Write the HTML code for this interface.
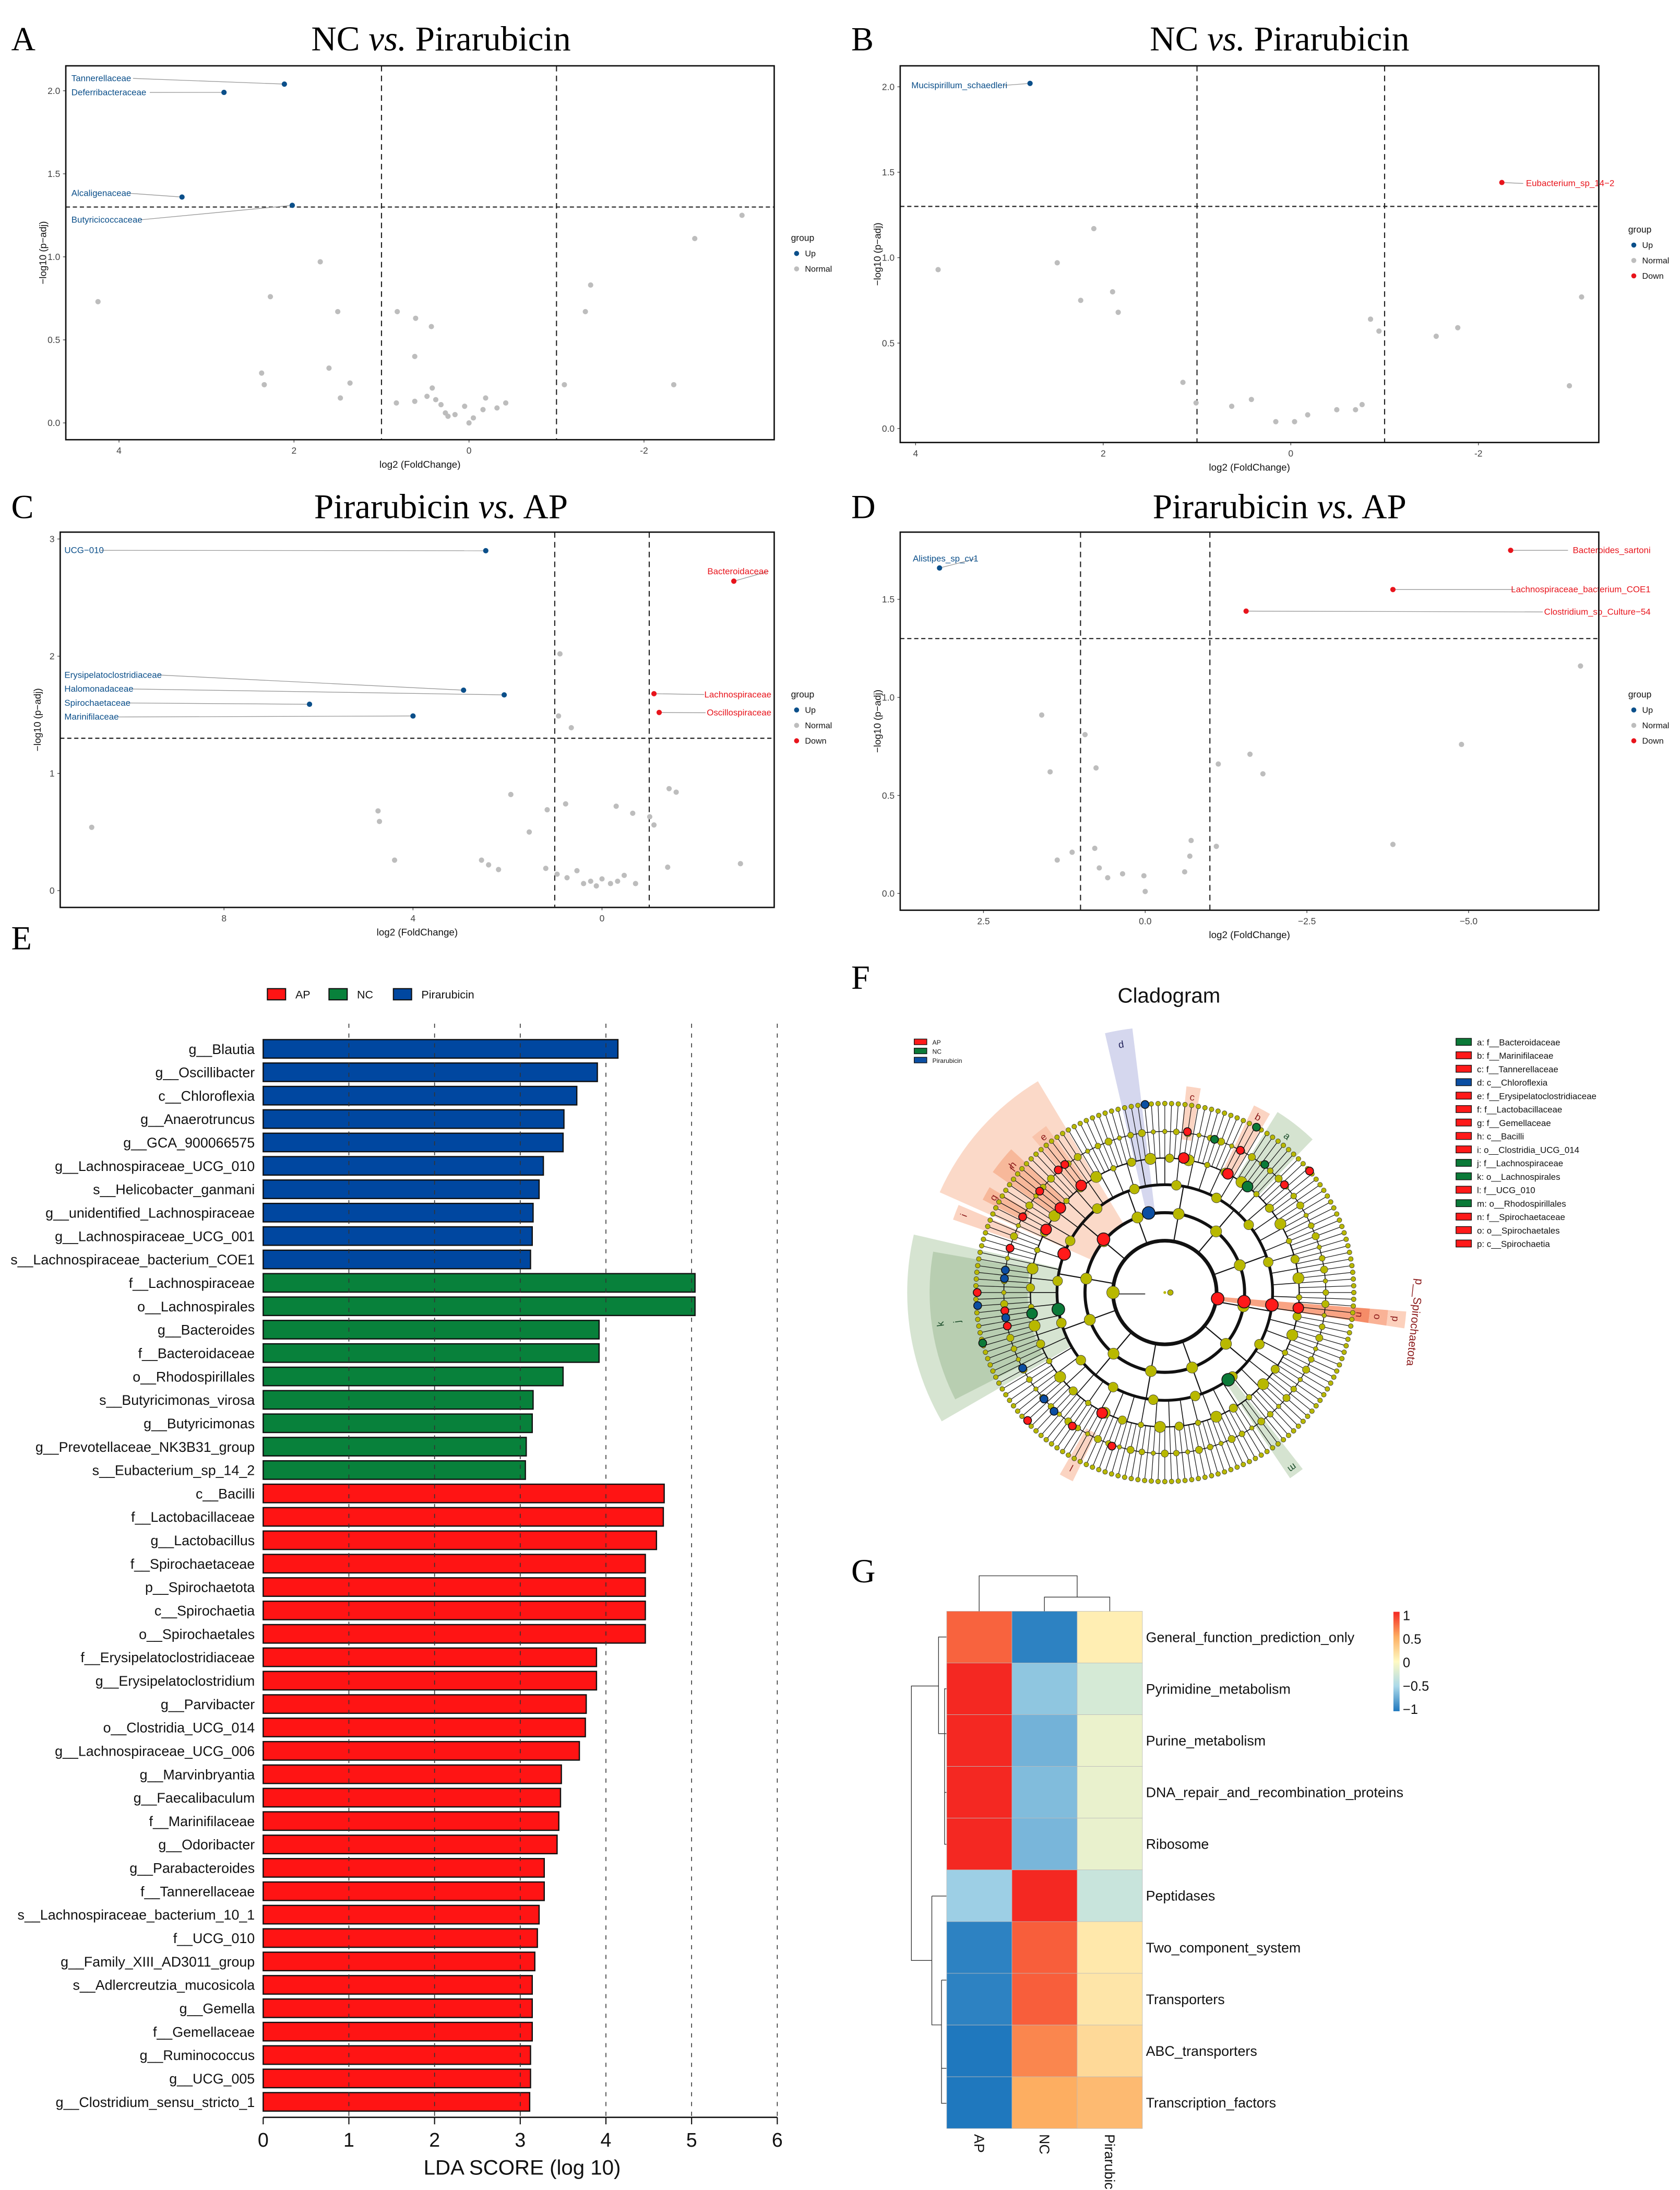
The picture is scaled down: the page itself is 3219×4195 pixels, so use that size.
<!DOCTYPE html>
<html><head><meta charset="utf-8"><style>
html,body{margin:0;padding:0;background:#fff}
svg{display:block;font-family:"Liberation Sans",sans-serif}
</style></head><body>
<svg id="fig" xmlns="http://www.w3.org/2000/svg" width="3219" height="4195" viewBox="0 0 1200 1563.9" preserveAspectRatio="none"></svg>
<script>
// ---------- Panel A data ----------
const A_fc=[2.11,2.8,3.28,2.02,4.24,2.27,1.70,1.50,1.60,1.47,1.36,2.37,2.34,0.82,0.61,0.43,0.62,0.83,0.62,0.48,0.42,0.38,0.32,0.27,0.24,0.16,0.05,0.0,-0.05,-0.16,-0.19,-0.32,-0.42,-1.09,-1.33,-1.39,-2.58,-3.12,-2.34];
const A_p=[2.04,1.99,1.36,1.31,0.73,0.76,0.97,0.67,0.33,0.15,0.24,0.30,0.23,0.67,0.63,0.58,0.40,0.12,0.13,0.16,0.21,0.14,0.11,0.06,0.04,0.05,0.10,0.0,0.03,0.08,0.15,0.09,0.12,0.23,0.67,0.83,1.11,1.25,0.23];
const A_grp=['U','U','U','U'];
const A_names=['Tannerellaceae','Deferribacteraceae','Alcaligenaceae','Butyricicoccaceae'];
// ---------- Panel B data ----------
const B_fc=[2.78,-2.25,3.76,2.49,2.10,2.24,1.90,1.84,1.15,1.01,0.63,0.42,0.16,-0.04,-0.18,-0.49,-0.69,-0.76,-0.85,-0.94,-1.55,-1.78,-2.97,-3.10];
const B_p=[2.02,1.44,0.93,0.97,1.17,0.75,0.80,0.68,0.27,0.15,0.13,0.17,0.04,0.04,0.08,0.11,0.11,0.14,0.64,0.57,0.54,0.59,0.25,0.77];
const B_grp=['U','D'];
const B_names=['Mucispirillum_schaedleri','Eubacterium_sp_14\u22122'];
// ---------- Panel C data ----------
const C_fc=[2.46,2.93,2.07,6.19,4.0,-2.79,-1.10,-1.21,10.8,4.74,4.71,4.39,2.55,2.40,2.19,1.93,1.54,1.19,1.16,0.89,0.92,0.65,0.77,0.95,0.74,0.53,0.39,0.24,0.12,0.0,-0.18,-0.33,-0.47,-0.30,-0.65,-0.71,-1.01,-1.1,-1.42,-1.57,-1.39,-2.93];
const C_p=[2.90,1.71,1.67,1.59,1.49,2.64,1.68,1.52,0.54,0.68,0.59,0.26,0.26,0.22,0.18,0.82,0.50,0.19,0.69,2.02,1.49,1.39,0.74,0.14,0.11,0.17,0.06,0.08,0.04,0.10,0.06,0.08,0.13,0.72,0.66,0.06,0.63,0.56,0.87,0.84,0.20,0.23];
const C_grp=['U','U','U','U','U','D','D','D'];
const C_names=['UCG\u2212010','Erysipelatoclostridiaceae','Halomonadaceae','Spirochaetaceae','Marinifilaceae','Bacteroidaceae','Lachnospiraceae','Oscillospiraceae'];
// ---------- Panel D data ----------
const D_fc=[3.18,-5.65,-3.83,-1.56,1.60,1.47,0.76,1.13,1.36,0.93,0.78,0.71,0.58,0.35,0.02,0,-0.61,-0.69,-0.71,-1.10,-1.13,-1.62,-1.82,-3.83,-4.89,-6.73];
const D_p=[1.66,1.75,1.55,1.44,0.91,0.62,0.64,0.21,0.17,0.81,0.23,0.13,0.08,0.10,0.09,0.01,0.11,0.19,0.27,0.24,0.66,0.71,0.61,0.25,0.76,1.16];
const D_grp=['U','D','D','D'];
const D_names=['Alistipes_sp_cv1','Bacteroides_sartoni','Lachnospiraceae_bacterium_COE1','Clostridium_sp_Culture\u221254'];
// ---------- Panel E data ----------
const E_names=['g__Blautia','g__Oscillibacter','c__Chloroflexia','g__Anaerotruncus','g__GCA_900066575','g__Lachnospiraceae_UCG_010','s__Helicobacter_ganmani','g__unidentified_Lachnospiraceae','g__Lachnospiraceae_UCG_001','s__Lachnospiraceae_bacterium_COE1','f__Lachnospiraceae','o__Lachnospirales','g__Bacteroides','f__Bacteroidaceae','o__Rhodospirillales','s__Butyricimonas_virosa','g__Butyricimonas','g__Prevotellaceae_NK3B31_group','s__Eubacterium_sp_14_2','c__Bacilli','f__Lactobacillaceae','g__Lactobacillus','f__Spirochaetaceae','p__Spirochaetota','c__Spirochaetia','o__Spirochaetales','f__Erysipelatoclostridiaceae','g__Erysipelatoclostridium','g__Parvibacter','o__Clostridia_UCG_014','g__Lachnospiraceae_UCG_006','g__Marvinbryantia','g__Faecalibaculum','f__Marinifilaceae','g__Odoribacter','g__Parabacteroides','f__Tannerellaceae','s__Lachnospiraceae_bacterium_10_1','f__UCG_010','g__Family_XIII_AD3011_group','s__Adlercreutzia_mucosicola','g__Gemella','f__Gemellaceae','g__Ruminococcus','g__UCG_005','g__Clostridium_sensu_stricto_1'];
const E_values=[4.14,3.90,3.66,3.51,3.50,3.27,3.22,3.15,3.14,3.12,5.04,5.04,3.92,3.92,3.50,3.15,3.14,3.07,3.06,4.68,4.67,4.59,4.46,4.46,4.46,4.46,3.89,3.89,3.77,3.76,3.69,3.48,3.47,3.45,3.43,3.28,3.28,3.22,3.20,3.17,3.14,3.14,3.14,3.12,3.12,3.11];
const E_groups=['P','P','P','P','P','P','P','P','P','P','N','N','N','N','N','N','N','N','N','A','A','A','A','A','A','A','A','A','A','A','A','A','A','A','A','A','A','A','A','A','A','A','A','A','A','A'];
const E_ticks=[0,1,2,3,4,5,6];
// ---------- Panel G data ----------
const G_rows=['General_function_prediction_only','Pyrimidine_metabolism','Purine_metabolism','DNA_repair_and_recombination_proteins','Ribosome','Peptidases','Two_component_system','Transporters','ABC_transporters','Transcription_factors'];
const G_cols=['AP','NC','Pirarubicin'];
const G_AP=[0.78,1.1,1.1,1.1,1.1,-0.55,-0.95,-0.95,-1.05,-1.05];
const G_NC=[-0.95,-0.6,-0.7,-0.65,-0.68,1.1,0.8,0.8,0.65,0.5];
const G_PIR=[0.08,-0.25,-0.12,-0.13,-0.13,-0.33,0.12,0.14,0.22,0.42];
const G_ticks=[1,0.5,0,-0.5,-1];
const G_tickLabels=['1','0.5','0','\u22120.5','\u22121'];
// ---------- Cladogram highlighted nodes ----------
const F_legend=['a: f__Bacteroidaceae','b: f__Marinifilaceae','c: f__Tannerellaceae','d: c__Chloroflexia','e: f__Erysipelatoclostridiaceae','f: f__Lactobacillaceae','g: f__Gemellaceae','h: c__Bacilli','i: o__Clostridia_UCG_014','j: f__Lachnospiraceae','k: o__Lachnospirales','l: f__UCG_010','m: o__Rhodospirillales','n: f__Spirochaetaceae','o: o__Spirochaetales','p: c__Spirochaetia'];
const F_legendGroup=['N','A','A','P','A','A','A','A','A','N','N','A','N','A','A','A'];
const F_nodeAng=[-96,-82,-82,-72,-61,-62,-62,-52,-52,-40,-42,6.6,6.6,6.6,6.6,54,-139,-159,-141,-141,-131,-128,-128,-152,-152,-164,-175,-172,176,180,173.5,171,168,171,171,164.5,152,138.6,137,133,124.7,117.5,109,-101.5];
const F_nodeR=[135,116,97,115,135,115,96,96,116,135,115,38,57,77,96,77,58,77,96,115,116,97,116,115,96,115,115,115,134,134,115,115,115,96,77,135,115,115,134,116,116,97,116,58];
const F_nodeG=['P','A','A','N','N','A','A','N','N','A','A','A','A','A','A','N','A','A','A','A','A','A','A','A','A','A','P','P','P','A','A','P','A','N','N','N','P','P','A','P','A','A','A','P'];

const svg=document.getElementById('fig');
const NS='http://www.w3.org/2000/svg';
function mk(tag,attrs,parent){const e=document.createElementNS(NS,tag);for(const k in attrs)e.setAttribute(k,attrs[k]);(parent||svg).appendChild(e);return e;}
function txt(s,attrs,parent){const e=mk('text',attrs,parent);e.textContent=s;return e;}
const COL={U:'#0b4f8a',D:'#e8141c',N:'#bdbdbd'};

const letters=[['A',8,36],['B',608,36],['C',8,370],['D',608,370],['E',8,678],['F',608,706],['G',608,1130]];
letters.forEach(l=>{const t=txt(l[0],{x:l[1],y:l[2],'font-family':'Liberation Serif, serif','font-size':24});

});

function title(x,y,a,b,name){const t=mk('text',{x:x,y:y,'text-anchor':'middle','font-family':'Liberation Serif, serif','font-size':25});


const s1=document.createElementNS(NS,'tspan');s1.textContent=a+' ';t.appendChild(s1);
const s2=document.createElementNS(NS,'tspan');s2.setAttribute('font-style','italic');s2.textContent='vs.';t.appendChild(s2);
const s3=document.createElementNS(NS,'tspan');s3.textContent=' '+b;t.appendChild(s3);}
title(315,36,'NC','Pirarubicin','title-a');
title(914,36,'NC','Pirarubicin','title-b');
title(315,370,'Pirarubicin','AP','title-c');
title(914,370,'Pirarubicin','AP','title-d');

function volcano(cfg,fc,p,grp,names,labPos){
  const g=mk('g',{});
  
  
  const X=v=>cfg.x0+cfg.kx*v, Y=v=>cfg.y0-cfg.ky*v;
  const [l,t,r,b]=cfg.box;
  [1,-1].forEach(v=>{const d=mk('line',{x1:X(v),x2:X(v),y1:t,y2:b,stroke:'#222','stroke-width':0.8,'stroke-dasharray':'4,3'},g);
    
    });
  const h=mk('line',{x1:l,x2:r,y1:Y(1.3),y2:Y(1.3),stroke:'#222','stroke-width':0.8,'stroke-dasharray':'3,2'},g);
  
  
  cfg.yt.forEach((v,i)=>{const tl=txt(cfg.ytl[i],{x:l-4,y:Y(v)+2.3,'text-anchor':'end','font-size':6.5,fill:'#444'},g);
    
    
    mk('line',{x1:l-2,x2:l,y1:Y(v),y2:Y(v),stroke:'#444','stroke-width':0.5},g);});
  cfg.xt.forEach((v,i)=>{const tl=txt(cfg.xtl[i],{x:X(v),y:b+10,'text-anchor':'middle','font-size':6.5,fill:'#444'},g);
    
    
    mk('line',{x1:X(v),x2:X(v),y1:b,y2:b+2,stroke:'#444','stroke-width':0.5},g);});
  const yt=txt('\u2212log10 (p\u2212adj)',{x:0,y:0,transform:`translate(${l-14},${(t+b)/2}) rotate(-90)`,'text-anchor':'middle','font-size':7,fill:'#111'},g);
  
  
  const xt=txt('log2 (FoldChange)',{x:(l+r)/2,y:b+20,'text-anchor':'middle','font-size':7,fill:'#111'},g);
  
  
  for(let i=0;i<fc.length;i++){const gg=grp[i]||'N';
    if(i<names.length){const lp=labPos[i];
      const ln=mk('line',{x1:lp[2],y1:lp[1]-2,x2:X(fc[i]),y2:Y(p[i]),stroke:'#999','stroke-width':0.5},g);
      
      
      const lt=txt(names[i],{x:lp[0],y:lp[1],'font-size':6.3,fill:COL[gg],'text-anchor':lp[3]||'start'},g);
      
      }
    const c=mk('circle',{cx:X(fc[i]),cy:Y(p[i]),r:1.9,fill:COL[gg]},g);
    
    }
  const fr=mk('rect',{x:l,y:t,width:r-l,height:b-t,fill:'none',stroke:'#111','stroke-width':1},g);
  
  
  const lx=cfg.leg[0],ly=cfg.leg[1];
  const lg=txt('group',{x:lx,y:ly,'font-size':6.5,fill:'#111'},g);
  
  
  cfg.legItems.forEach((k,i)=>{const yy=ly+11+i*11;
    mk('circle',{cx:lx+4,cy:yy-2,r:1.8,fill:COL[k]},g);
    const e=txt(k==='U'?'Up':k==='D'?'Down':'Normal',{x:lx+10,y:yy,'font-size':6,fill:'#111'},g);
    
    });
}
volcano({id:'a',box:[47,47,553,314],x0:335,kx:-62.5,y0:302,ky:118.6,xt:[4,2,0,-2],xtl:['4','2','0','-2'],yt:[0,0.5,1,1.5,2],ytl:['0.0','0.5','1.0','1.5','2.0'],leg:[565,172],legItems:['U','N']},
  A_fc,A_p,A_grp,A_names,[[51,58,95],[51,68,107],[51,140,92],[51,159,100]]);
volcano({id:'b',box:[643,47,1142,316],x0:922,kx:-67,y0:306,ky:122,xt:[4,2,0,-2],xtl:['4','2','0','-2'],yt:[0,0.5,1,1.5,2],ytl:['0.0','0.5','1.0','1.5','2.0'],leg:[1163,166],legItems:['U','N','D']},
  B_fc,B_p,B_grp,B_names,[[651,63,717],[1090,133,1088]]);
volcano({id:'c',box:[43,380,553,648],x0:430,kx:-33.75,y0:636,ky:83.7,xt:[8,4,0],xtl:['8','4','0'],yt:[0,1,2,3],ytl:['0','1','2','3'],leg:[565,498],legItems:['U','N','D']},
  C_fc,C_p,C_grp,C_names,[[46,395,72],[46,484,113],[46,494,93],[46,504,91],[46,514,84],[549,410,549,'end'],[551,498,503,'end'],[551,511,504,'end']]);
volcano({id:'d',box:[643,380,1142,650],x0:818,kx:-46.2,y0:638,ky:140,xt:[2.5,0,-2.5,-5],xtl:['2.5','0.0','\u22122.5','\u22125.0'],yt:[0,0.5,1,1.5],ytl:['0.0','0.5','1.0','1.5'],leg:[1163,498],legItems:['U','N','D']},
  D_fc,D_p,D_grp,D_names,[[652,401,697],[1179,395,1120,'end'],[1179,423,1082,'end'],[1179,439,1102,'end']]);

// ---------- Panel E ----------
(function(){
  const g=mk('g',{});
  
  
  const x0=188,kx=61.2,y0=749,step=16.71,bh=13.2;
  const X=v=>x0+kx*v;
  const BC={A:'#ff1414',N:'#08813b',P:'#0047a0'};
  const LEGN={A:'AP',N:'NC',P:'Pirarubicin'};
  [['A',191],['N',235],['P',281]].forEach(k=>{const r=mk('rect',{x:k[1],y:706,width:13,height:8,fill:BC[k[0]],stroke:'#111','stroke-width':0.8},g);
    
    
    const t=txt(LEGN[k[0]],{x:k[1]+20,y:713,'font-size':8,fill:'#111'},g);
    
    });
  E_names.forEach((n,i)=>{const cy=y0+i*step;
    const r=mk('rect',{x:x0,y:cy-bh/2,width:kx*E_values[i],height:bh,fill:BC[E_groups[i]],stroke:'#111','stroke-width':0.9},g);
    
    
    const t=txt(n,{x:182,y:cy+3.6,'text-anchor':'end','font-size':10,fill:'#111'},g);
    
    });
  E_ticks.forEach(v=>{if(v>0){const d=mk('line',{x1:X(v),x2:X(v),y1:731,y2:1512,stroke:'#333','stroke-width':0.6,'stroke-dasharray':'3,4'},g);
      
      }
    mk('line',{x1:X(v),x2:X(v),y1:1512,y2:1517,stroke:'#111','stroke-width':0.8},g);
    const t=txt(String(v),{x:X(v),y:1533,'text-anchor':'middle','font-size':14,fill:'#111'},g);
    
    });
  const ax=mk('line',{x1:x0,x2:X(6),y1:1512,y2:1512,stroke:'#111','stroke-width':1},g);
  
  
  const tt=txt('LDA SCORE (log 10)',{x:373,y:1553,'text-anchor':'middle','font-size':15,fill:'#111'},g);
  
  
})();

// ---------- Panel F ----------
(function(){
  const g=mk('g',{});
  
  
  const cx=832,cy=923,D=Math.PI/180;
  const P=(r,a)=>[cx+r*Math.cos(a*D),cy+r*Math.sin(a*D)];
  function sector(a1,a2,r1,r2,fill,name){const p1=P(r1,a1),p2=P(r2,a1),p3=P(r2,a2),p4=P(r1,a2);const lg=(a2-a1)>180?1:0;
    const s=mk('path',{d:`M${p1}L${p2}A${r2},${r2} 0 ${lg} 1 ${p3}L${p4}A${r1},${r1} 0 ${lg} 0 ${p1}Z`,fill:fill,stroke:'none'},g);
    
    }
  const t0=txt('Cladogram',{x:835,y:716,'text-anchor':'middle','font-size':15,fill:'#111'});
  
  
  sector(-156,-121,58,176,'#fbd9c8','clade-h');
  sector(-130.5,-125.5,96,146,'#f9c4ab','clade-e');
  sector(-145,-137,96,150,'#f7b89a','clade-f');
  sector(-153,-149,112,146,'#f7b89a','clade-g');
  sector(-161,-157,112,160,'#fbd4c2','clade-i');
  sector(-103,-97,58,190,'#d5d7ee','clade-d');
  sector(-84,-80,110,148,'#fbd4c2','clade-c');
  sector(-64.5,-59.5,95,148,'#fbd4c2','clade-b');
  sector(-58,-46,95,152,'#d5e3d0','clade-a');
  sector(150,193,76,184,'#d6e4d1','clade-k');
  sector(153,190,98,168,'#b8ceb1','clade-j');
  sector(116,120,112,150,'#fbd4c2','clade-l');
  sector(52,56,77,160,'#d5e3d0','clade-m');
  sector(4.5,8.5,38,135,'#f9a383','clade-p-branch');
  sector(4.5,8.5,135,147,'#f58c68','clade-n');
  sector(4.5,8.5,147,160,'#f9b296','clade-o');
  sector(4.5,8.5,160,173,'#fcd1bd','clade-p');
  const lab=[['h',-140,142,'#8b1a1a'],['e',-128,141,'#8b1a1a'],['f',-141,140,'#8b1a1a'],['g',-151,140,'#8b1a1a'],['i',-159,154,'#8b1a1a'],['d',-100,180,'#22225a'],['c',-82,141,'#8b1a1a'],['b',-62,142,'#8b1a1a'],['a',-52,142,'#1b4d2a'],['k',172,162,'#1b4d2a'],['j',172,150,'#1b4d2a'],['l',118,142,'#8b1a1a'],['m',54,155,'#1b4d2a'],['n',6.5,140,'#8b1a1a'],['o',6.5,153,'#8b1a1a'],['p',6.5,166,'#8b1a1a']];
  lab.forEach(l=>{const p=P(l[2],l[1]);const t=txt(l[0],{x:p[0],y:p[1]+2.5,'text-anchor':'middle','font-size':7,fill:l[3],transform:`rotate(${l[1]+90},${p[0]},${p[1]})`},g);
    
    });
  const sp=txt('p__Spirochaetota',{x:1008,y:944,'text-anchor':'middle','font-size':8,fill:'#8b1a1a',transform:'rotate(96,1008,944)'},g);
  
  
  const N=176;
  for(let i=0;i<N;i++){const a=-90+i*360/N;const p1=P(96,a),p2=P(135,a);
    mk('line',{x1:p1[0],y1:p1[1],x2:p2[0],y2:p2[1],stroke:'#111','stroke-width':0.45},g);
    if(i%3===0){const q1=P(77,a),q2=P(96,a);mk('line',{x1:q1[0],y1:q1[1],x2:q2[0],y2:q2[1],stroke:'#111','stroke-width':0.6},g);}}
  [[37,2.6],[57,2.2],[77,2],[96,0.9],[115,0.6]].forEach(c=>mk('circle',{cx:cx,cy:cy,r:c[0],fill:'none',stroke:'#111','stroke-width':c[1]},g));
  for(let k=0;k<12;k++){const a=k*30+10;const p1=P(37,a),p2=P(77,a);mk('line',{x1:p1[0],y1:p1[1],x2:p2[0],y2:p2[1],stroke:'#111','stroke-width':0.8},g);}
  mk('line',{x1:cx-37,y1:cy+1,x2:cx-14,y2:cy+1,stroke:'#111','stroke-width':0.6},g);
  const Y='#b8b800';
  for(let i=0;i<N;i++){const a=-90+i*360/N;
    let p=P(135,a);mk('circle',{cx:p[0],cy:p[1],r:1.7,fill:Y,stroke:'#333','stroke-width':0.3},g);
    if(i%2===0){p=P(115,a);mk('circle',{cx:p[0],cy:p[1],r:1.6+(i%6)/4,fill:Y,stroke:'#333','stroke-width':0.3},g);}
    if(i%4===1){p=P(96,a);mk('circle',{cx:p[0],cy:p[1],r:2+(i%3),fill:Y,stroke:'#333','stroke-width':0.3},g);}
    if(i%11===3){p=P(77,a);mk('circle',{cx:p[0],cy:p[1],r:3.5,fill:Y,stroke:'#333','stroke-width':0.3},g);}}
  for(let k=0;k<12;k++){const a=k*30+10;let p=P(57,a);mk('circle',{cx:p[0],cy:p[1],r:4,fill:Y,stroke:'#333','stroke-width':0.3},g);}
  [[180,37,4.5],[0,4,2]].forEach(n=>{const p=P(n[1],n[0]);mk('circle',{cx:p[0],cy:p[1],r:n[2],fill:Y,stroke:'#333','stroke-width':0.3},g);});
  mk('circle',{cx:cx,cy:cy,r:1,fill:Y},g);
  const NC={A:'#ff1a1a',N:'#0b7a38',P:'#0b4ea2'};
  F_nodeAng.forEach((a,i)=>{const p=P(F_nodeR[i],a);const c=mk('circle',{cx:p[0],cy:p[1],r:F_nodeR[i]<80?4.5:F_nodeR[i]<100?3.8:2.8,fill:NC[F_nodeG[i]],stroke:'#111','stroke-width':0.6},g);
    
    });
  [['A','AP'],['N','NC'],['P','Pirarubicin']].forEach((k,i)=>{mk('rect',{x:653,y:742+i*6.5,width:9,height:4,fill:NC[k[0]],stroke:'#111','stroke-width':0.5},g);
    const t=txt(k[1],{x:666,y:746+i*6.5,'font-size':4.5,fill:'#111'},g);
    
    });
  F_legend.forEach((s,i)=>{const y=745+i*9.6;
    mk('rect',{x:1040,y:y-3.5,width:11,height:5,fill:NC[F_legendGroup[i]],stroke:'#111','stroke-width':0.5},g);
    const t=txt(s,{x:1055,y:y+1.5,'font-size':6.3,fill:'#111'},g);
    
    });
})();

// ---------- Panel G ----------
(function(){
  const g=mk('g',{});
  
  
  const stops=[[-1,[31,120,190]],[-0.5,[171,217,233]],[0,[255,250,195]],[0.5,[253,174,97]],[1,[244,40,34]]];
  function color(v){v=Math.max(-1,Math.min(1,v));for(let i=0;i<stops.length-1;i++){const a=stops[i],b=stops[i+1];if(v<=b[0]){const t=(v-a[0])/(b[0]-a[0]);return 'rgb('+a[1].map((c,j)=>Math.round(c+(b[1][j]-c)*t)).join(',')+')';}}return 'rgb(244,40,34)';}
  const x0=676.2,y0=1150.6,cw=46.6,rh=36.94;
  const cols=[G_AP,G_NC,G_PIR];
  G_rows.forEach((rn,r)=>{cols.forEach((arr,c)=>{const rc=mk('rect',{x:x0+c*cw,y:y0+r*rh,width:cw,height:rh,fill:color(arr[r]),stroke:'#bbb','stroke-width':0.3},g);
      
      });
    const t=txt(rn,{x:818.5,y:y0+r*rh+rh/2+3.5,'font-size':10,fill:'#111'},g);
    
    });
  G_cols.forEach((cn,c)=>{const x=x0+c*cw+cw/2-3.5,y=1524;const t=txt(cn,{x:x,y:y,'font-size':10,fill:'#111',transform:`rotate(90,${x},${y})`},g);
    
    });
  const d1=mk('path',{d:'M699.4,1150.6V1125.3H769.4V1140.5M746,1150.6V1140.5H792.7V1150.6',fill:'none',stroke:'#333','stroke-width':0.5},g);
  
  
  const d2=mk('path',{d:'M676,1169H670.4V1238H676M670.4,1238H674.7V1206H676M674.7,1238V1280H676M674.7,1280V1317H676M670.4,1204H651V1400H665.6M665.6,1354H676M665.6,1354V1446H672.5M672.5,1414H676M672.5,1414V1477H676M672.5,1477V1502H676',fill:'none',stroke:'#333','stroke-width':0.5},g);
  
  
  const defs=mk('defs',{});
  const lg=mk('linearGradient',{id:'cb',x1:0,y1:0,x2:0,y2:1},defs);
  [[0,1],[0.25,0.5],[0.5,0],[0.75,-0.5],[1,-1]].forEach(s=>mk('stop',{offset:s[0],'stop-color':color(s[1])},lg));
  const cb=mk('rect',{x:995.3,y:1151,width:4.4,height:71,fill:'url(#cb)'},g);
  
  
  G_ticks.forEach((v,i)=>{const y=1151+(1-v)/2*67+3;const t=txt(G_tickLabels[i],{x:1002,y:y+3,'font-size':9.5,fill:'#111'},g);
    
    });
})();
</script>
</body></html>
